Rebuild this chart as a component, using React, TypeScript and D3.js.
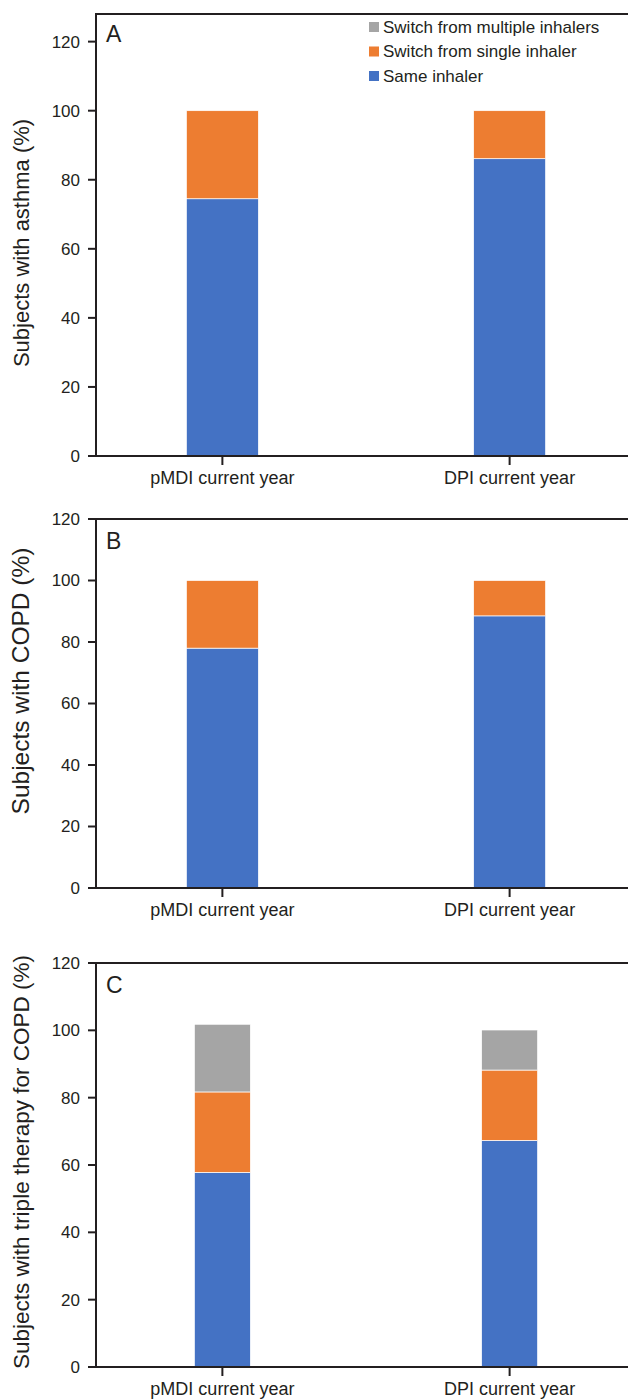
import React, { useEffect, useRef } from 'react'
import * as d3 from 'd3'

const categories = ['pMDI current year', 'DPI current year']
const seriesNames = ['Same inhaler', 'Switch from single inhaler', 'Switch from multiple inhalers']
const seriesColors = ['#4472c4', '#ed7d31', '#a5a5a5']

const asthmaSame = [74.5, 86.1]
const asthmaSingle = [25.5, 13.9]
const asthmaMultiple = [0, 0]

const copdSame = [78.0, 88.5]
const copdSingle = [22.0, 11.5]
const copdMultiple = [0, 0]

const tripleSame = [57.8, 67.3]
const tripleSingle = [23.9, 20.9]
const tripleMultiple = [20.1, 11.9]

const yTicks = [0, 20, 40, 60, 80, 100, 120]

const FONT = '"Liberation Sans", Arial, sans-serif'
const INK = '#231f20'

// layout of the three stacked panels
const panels = [
  { letter: 'A', title: 'Subjects with asthma (%)', same: asthmaSame, single: asthmaSingle, multiple: asthmaMultiple, yMax: 128, top: 14, bottom: 456, barW: 72, titleSize: 22, titleY: 243, legend: true },
  { letter: 'B', title: 'Subjects with COPD (%)', same: copdSame, single: copdSingle, multiple: copdMultiple, yMax: 120, top: 519, bottom: 888, barW: 72, titleSize: 24.5, titleY: 681, legend: false },
  { letter: 'C', title: 'Subjects with triple therapy for COPD (%)', same: tripleSame, single: tripleSingle, multiple: tripleMultiple, yMax: 120, top: 963, bottom: 1367, barW: 56, titleSize: 22.5, titleY: 1162, legend: false },
]

export default function App() {
  const ref = useRef(null)

  useEffect(() => {
    const width = 628
    const height = 1400
    const axisX = 96

    d3.select(ref.current).selectAll('*').remove()
    const svg = d3.select(ref.current)
      .append('svg')
      .attr('width', width)
      .attr('height', height)
      .style('position', 'absolute')
      .style('left', 0)
      .style('top', 0)
      .style('font-family', FONT)

    const x = d3.scalePoint()
      .domain(categories)
      .range([axisX, 636])
      .padding(0.44)

    panels.forEach((p) => {
      const y = d3.scaleLinear().domain([0, p.yMax]).range([p.bottom, p.top])
      const rows = categories.map((c, i) => ({ cat: c, s0: p.same[i], s1: p.single[i], s2: p.multiple[i] }))
      const stack = d3.stack().keys(['s0', 's1', 's2'])
      const layers = stack(rows)

      const g = svg.append('g')

      layers.forEach((layer, li) => {
        g.selectAll('rect.l' + li)
          .data(layer.filter(d => d[1] - d[0] > 0))
          .enter()
          .append('rect')
          .attr('x', d => x(d.data.cat) - p.barW / 2)
          .attr('y', d => y(d[1]))
          .attr('width', p.barW)
          .attr('height', d => y(d[0]) - y(d[1]))
          .attr('fill', seriesColors[li])
          .attr('stroke', '#ffffff')
          .attr('stroke-width', 0.7)
      })

      // frame: left axis, top line, base line
      g.append('line')
        .attr('x1', axisX).attr('x2', axisX)
        .attr('y1', y(p.yMax)).attr('y2', y(0))
        .attr('stroke', INK).attr('stroke-width', 2)
      g.append('line')
        .attr('x1', axisX - 1).attr('x2', width)
        .attr('y1', y(p.yMax)).attr('y2', y(p.yMax))
        .attr('stroke', INK).attr('stroke-width', 2)
      g.append('line')
        .attr('x1', axisX - 8).attr('x2', width)
        .attr('y1', y(0)).attr('y2', y(0))
        .attr('stroke', INK).attr('stroke-width', 2)

      yTicks.forEach((t) => {
        g.append('line')
          .attr('x1', axisX - 8).attr('x2', axisX)
          .attr('y1', y(t)).attr('y2', y(t))
          .attr('stroke', INK).attr('stroke-width', 2)
        g.append('text')
          .attr('x', axisX - 16)
          .attr('y', y(t))
          .attr('dy', '0.35em')
          .attr('text-anchor', 'end')
          .attr('font-size', 17)
          .attr('fill', INK)
          .text(t)
      })

      categories.forEach((c) => {
        g.append('line')
          .attr('x1', x(c)).attr('x2', x(c))
          .attr('y1', y(0)).attr('y2', y(0) + 9)
          .attr('stroke', INK).attr('stroke-width', 2)
        g.append('text')
          .attr('x', x(c))
          .attr('y', y(0) + 28)
          .attr('text-anchor', 'middle')
          .attr('font-size', 18)
          .attr('fill', INK)
          .text(c)
      })

      g.append('text')
        .attr('x', axisX + 10)
        .attr('y', p.top + (p.legend ? 28 : 30))
        .attr('font-size', 23)
        .attr('fill', INK)
        .text(p.letter)

      g.append('text')
        .attr('transform', 'translate(29,' + p.titleY + ') rotate(-90)')
        .attr('text-anchor', 'middle')
        .attr('font-size', p.titleSize)
        .attr('fill', INK)
        .text(p.title)

      if (p.legend) {
        const order = [2, 1, 0]
        order.forEach((si, k) => {
          const cy = 27 + k * 24.5
          g.append('rect')
            .attr('x', 369).attr('y', cy - 5)
            .attr('width', 10).attr('height', 10)
            .attr('fill', seriesColors[si])
          g.append('text')
            .attr('x', 383).attr('y', cy)
            .attr('dy', '0.35em')
            .attr('font-size', 17)
            .attr('fill', INK)
            .text(seriesNames[si])
        })
      }
    })
  }, [])

  return <div ref={ref}></div>
}
